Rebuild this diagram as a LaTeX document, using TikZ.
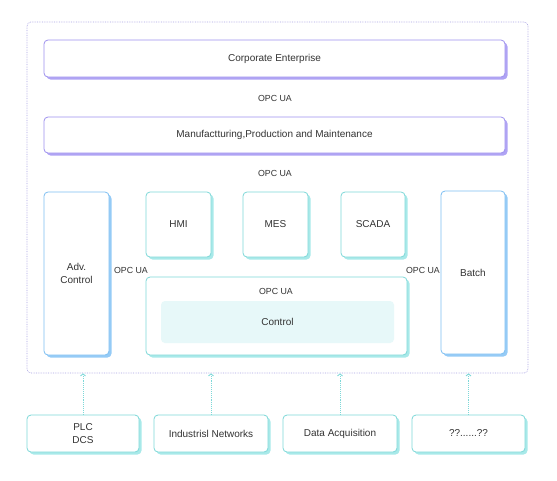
\documentclass[tikz,border=0pt]{standalone}
\usepackage{fontspec}
\setmainfont{Liberation Sans}
\usepackage{xcolor}
\definecolor{lvpurple}{HTML}{9D90EE}
\definecolor{lvpurplesh}{HTML}{AFA3F4}
\definecolor{lvcyan}{HTML}{7DD8D8}
\definecolor{lvcyansh}{HTML}{A8E9E9}
\definecolor{lvblue}{HTML}{7DBFF2}
\definecolor{lvbluesh}{HTML}{95CBF6}
\definecolor{lvfill}{HTML}{E7F8F9}
\definecolor{lvframe}{HTML}{A8A2E2}
\definecolor{lvtext}{HTML}{333333}
\usepackage{tikz}
\usetikzlibrary{positioning,arrows.meta,shadows}
\tikzset{
  lbox/.style ={rectangle, rounded corners=4pt, fill=white, align=center,
                inner sep=2pt, text=lvtext, font=\fontsize{10}{13.5}\selectfont,
                line width=0.8pt},
  pbox/.style ={lbox, draw=lvpurple, drop shadow={shadow xshift=2.5pt,
                shadow yshift=-2.5pt, fill=lvpurplesh, opacity=1}},
  cbox/.style ={lbox, draw=lvcyan, drop shadow={shadow xshift=2.5pt,
                shadow yshift=-2.5pt, fill=lvcyansh, opacity=1}},
  bbox/.style ={lbox, draw=lvblue, drop shadow={shadow xshift=2.5pt,
                shadow yshift=-2.5pt, fill=lvbluesh, opacity=1}},
  proto/.style={font=\fontsize{8.8}{10}\selectfont, text=lvtext, inner sep=1pt},
  uplink/.style={-{Straight Barb[length=2pt, width=5pt]}, draw=lvcyan,
                 densely dotted, line width=0.9pt},
}

\begin{document}
\begin{tikzpicture}[x=1pt, y=-1pt]
  \useasboundingbox (0,0) rectangle (557,480);
  % outer frame
  \node[draw=lvframe, densely dotted, rounded corners=4pt, line width=0.7pt,
        minimum width=501pt, minimum height=351pt, inner sep=0pt] (frame) at (277.5,197.5) {};
  % enterprise levels
  \node[pbox, minimum width=461pt, minimum height=37pt] (corp) at (274.5,58.5) {Corporate Enterprise};
  \node[proto] (ua1) at (275,98) {OPC UA};
  \node[pbox, minimum width=461pt, minimum height=36pt] (manu) at (274.5,135) {Manufactturing,Production and Maintenance};
  \node[proto] (ua2) at (275,173) {OPC UA};
  % operations
  \node[bbox, minimum width=65pt, minimum height=163pt] (adv) at (76.5,273.5) {Adv.\\Control};
  \node[cbox, minimum width=65pt, minimum height=65pt] (hmi) at (178.5,224.5) {HMI};
  \node[cbox, minimum width=65pt, minimum height=65pt] (mes) at (275.5,224.5) {MES};
  \node[cbox, minimum width=64pt, minimum height=65pt] (scada) at (373,224.5) {SCADA};
  \node[bbox, minimum width=64pt, minimum height=163pt] (batch) at (473,272.5) {Batch};
  \node[cbox, minimum width=261pt, minimum height=78pt] (ctlbox) at (276.5,316) {};
  \node[proto] (ua3) at (276,291) {OPC UA};
  \node[rectangle, rounded corners=4pt, fill=lvfill, minimum width=233pt, minimum height=42pt,
        text=lvtext, font=\fontsize{10}{13.5}\selectfont] (ctl) at (277.5,322) {Control};
  \node[proto] (ua4) at (131,270) {OPC UA};
  \node[proto] (ua5) at (423,270) {OPC UA};
  % field level
  \node[cbox, minimum width=112pt, minimum height=37pt] (plc) at (83,433.5) {PLC\\DCS};
  \node[cbox, minimum width=114pt, minimum height=37pt] (net) at (211,433.5) {Industrisl Networks};
  \node[cbox, minimum width=114pt, minimum height=37pt] (daq) at (340,433.5) {Data Acquisition};
  \node[cbox, minimum width=113pt, minimum height=37pt] (other) at (468.5,433.5) {??......??};
  \foreach \n in {plc,net,daq,other}
    \draw[uplink] (\n.north) -- (\n.north |- frame.south);
\end{tikzpicture}
\end{document}
